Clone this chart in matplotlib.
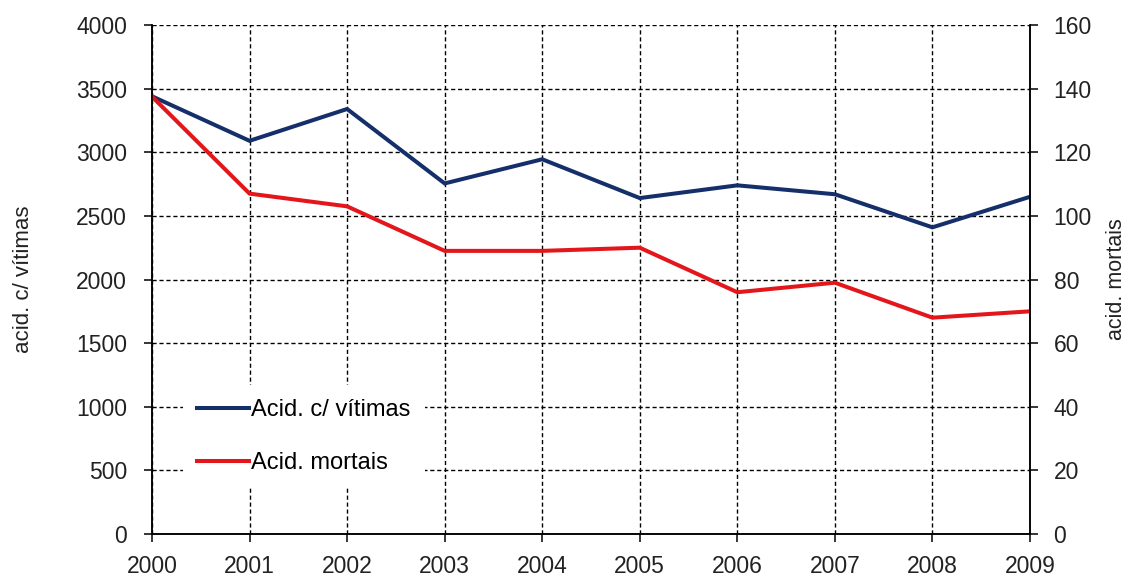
from matplotlib import pyplot as plt

# data
years = [2000, 2001, 2002, 2003, 2004, 2005, 2006, 2007, 2008, 2009]
acid_vitimas = [3440, 3090, 3340, 2755, 2945, 2640, 2740, 2670, 2410, 2650]
acid_mortais = [137.5, 107, 103, 89, 89, 90, 76, 79, 68, 70]

left_ticks = [0, 500, 1000, 1500, 2000, 2500, 3000, 3500, 4000]
right_ticks = [0, 20, 40, 60, 80, 100, 120, 140, 160]

BLUE = '#142f6a'
RED = '#e3161c'

plt.rcParams['font.family'] = ['Liberation Sans', 'DejaVu Sans']


def main():
    fig = plt.figure(figsize=(11.3, 5.82), dpi=100)
    ax = fig.add_axes([0.1345, 0.0825, 0.777, 0.8745])
    ax2 = ax.twinx()

    l1, = ax.plot(years, acid_vitimas, color=BLUE, lw=2.9, solid_joinstyle='miter')
    l2, = ax2.plot(years, acid_mortais, color=RED, lw=2.9, solid_joinstyle='miter')

    ax.set_xlim(years[0], years[-1])
    ax.set_ylim(0, 4000)
    ax2.set_ylim(0, 160)
    ax.set_xticks(years)
    ax.set_yticks(left_ticks)
    ax2.set_yticks(right_ticks)

    ax.grid(True, color='black', lw=1.0, linestyle=(0, (3, 2)))
    ax.set_axisbelow(True)

    for a in (ax, ax2):
        a.spines['top'].set_visible(False)
        for s in ('left', 'right', 'bottom'):
            a.spines[s].set_linewidth(1.1)
    ax.tick_params(axis='both', direction='out', length=6, width=1.1,
                   labelsize=16.5, labelcolor='#222222', pad=9)
    ax.tick_params(axis='y', pad=12)
    ax2.tick_params(axis='y', direction='out', length=6, width=1.1,
                    labelsize=16.5, labelcolor='#222222', pad=11)

    ax.set_ylabel('acid. c/ vítimas', fontsize=16, color='#222222', labelpad=30)
    ax2.set_ylabel('acid. mortais', fontsize=15.5, color='#222222')
    ax2.yaxis.set_label_coords(1.0866, 0.5)

    leg = ax2.legend([l1, l2], ['Acid. c/ vítimas', 'Acid. mortais'],
                     loc='lower left', bbox_to_anchor=(0.0215, 0.067),
                     frameon=True, fontsize=17, handlelength=2.2,
                     handletextpad=0.1, labelspacing=1.3, borderpad=0.6)
    leg.get_frame().set_edgecolor('none')
    leg.get_frame().set_facecolor('white')
    leg.get_frame().set_alpha(1)

    fig.savefig('out.png', dpi=100)


if __name__ == '__main__':
    main()
